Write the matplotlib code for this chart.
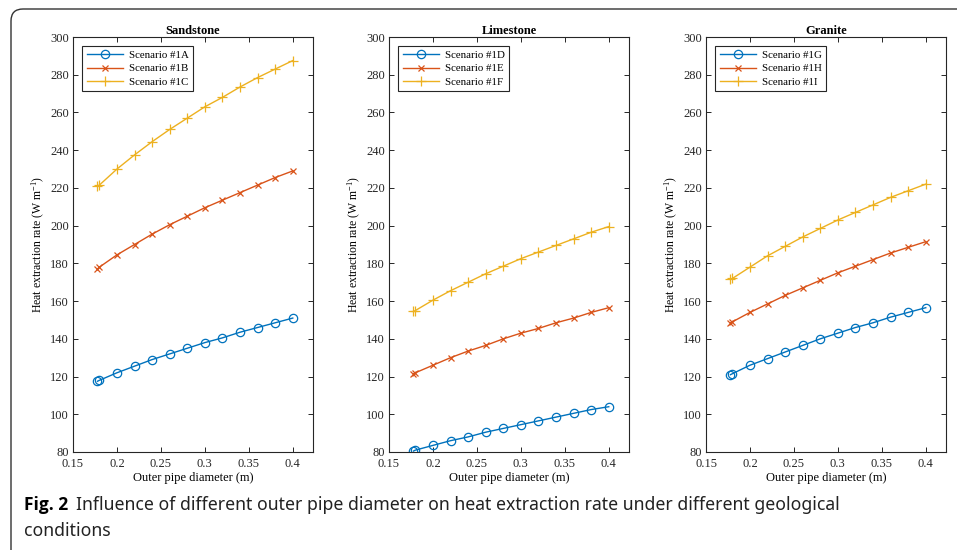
import numpy as np
import matplotlib.pyplot as plt
from matplotlib.patches import FancyBboxPatch
from matplotlib.transforms import IdentityTransform

# outer pipe diameter (m)
diameter = [0.1778, 0.18, 0.20, 0.22, 0.24, 0.26, 0.28, 0.30, 0.32, 0.34, 0.36, 0.38, 0.40]

# heat extraction rate (W/m)
sand_1A = [117.5, 118, 122, 125.5, 129, 132, 135, 138, 140.5, 143.5, 146, 148.5, 151]
sand_1B = [177, 178, 184.5, 190, 195.5, 200.5, 205, 209.5, 213.5, 217.5, 221.5, 225.5, 229]
sand_1C = [221, 221.5, 230, 237.5, 244.5, 251, 257, 263, 268, 273.5, 278.5, 283, 287.5]

lime_1D = [80.5, 81, 83.5, 86, 88, 90.5, 92.5, 94.5, 96.5, 98.5, 100.5, 102.5, 104]
lime_1E = [121.5, 122, 126, 130, 133.5, 136.5, 140, 143, 145.5, 148.5, 151, 154, 156.5]
lime_1F = [154.5, 155, 160.5, 165.5, 170, 174.5, 178.5, 182.5, 186, 189.5, 193, 196.5, 199.5]

gran_1G = [121, 121.5, 126, 129.5, 133, 136.5, 140, 143, 146, 148.5, 151.5, 154, 156.5]
gran_1H = [148.5, 149, 154, 158.5, 163, 167, 171, 175, 178.5, 182, 185.5, 188.5, 191.5]
gran_1I = [171.5, 172, 178, 184, 189, 194, 198.5, 203, 207, 211, 215, 218.5, 222]

panels = [
    ("Sandstone", [sand_1A, sand_1B, sand_1C], ["Scenario #1A", "Scenario #1B", "Scenario #1C"]),
    ("Limestone", [lime_1D, lime_1E, lime_1F], ["Scenario #1D", "Scenario #1E", "Scenario #1F"]),
    ("Granite", [gran_1G, gran_1H, gran_1I], ["Scenario #1G", "Scenario #1H", "Scenario #1I"]),
]

colors = ["#0072BD", "#D95319", "#EDB120"]
markers = ["o", "x", "+"]
msizes = [6, 4.5, 7]

plt.rcParams['font.family'] = ['Liberation Serif', 'DejaVu Serif']
plt.rcParams['mathtext.fontset'] = 'custom'
plt.rcParams['mathtext.rm'] = 'Liberation Serif'
plt.rcParams['mathtext.it'] = 'Liberation Serif:italic'

W, H = 957, 550
fig = plt.figure(figsize=(W / 100, H / 100), dpi=100)

lefts = [73, 389, 706]
ax_w = 240
ax_top, ax_bot = 37, 452

for (title, series, labels), left in zip(panels, lefts):
    ax = fig.add_axes([left / W, 1 - ax_bot / H, ax_w / W, (ax_bot - ax_top) / H])
    for y, lab, c, m, ms in zip(series, labels, colors, markers, msizes):
        ax.plot(diameter, y, color=c, marker=m, markersize=ms, markerfacecolor='none',
                markeredgewidth=0.9, lw=1.0, label=lab)
    ax.set_xlim(0.15, 0.423)
    ax.set_ylim(80, 300)
    ax.set_xticks([0.15, 0.2, 0.25, 0.3, 0.35, 0.4])
    ax.set_xticklabels(["0.15", "0.2", "0.25", "0.3", "0.35", "0.4"])
    ax.set_yticks(np.arange(80, 301, 20))
    ax.tick_params(direction='in', top=True, right=True, length=3.5, width=0.7,
                   labelsize=9, colors='#262626')
    ax.tick_params(axis='x', pad=4)
    ax.tick_params(axis='y', pad=3)
    for sp in ax.spines.values():
        sp.set_linewidth(0.8)
        sp.set_color('#262626')
    ax.set_title(title, fontsize=9, fontweight='bold', pad=2)
    ax.set_xlabel("Outer pipe diameter (m)", fontsize=9, labelpad=2)
    ax.set_ylabel("Heat extraction rate (W m$^{-1}$)", fontsize=8.5, labelpad=2)
    leg = ax.legend(loc='upper left', fontsize=7.8, fancybox=False, framealpha=1,
                    borderaxespad=0.85, handlelength=3.4, labelspacing=0.35,
                    borderpad=0.4, handletextpad=0.5)
    leg.get_frame().set_edgecolor('#262626')
    leg.get_frame().set_linewidth(0.8)

# caption
cap_font = ['Noto Sans', 'DejaVu Sans']
fig.text(24 / W, 1 - 505 / H, "Fig. 2", fontsize=12.5, fontweight='bold',
         family=['Open Sans', 'DejaVu Sans'], va='center', ha='left')
fig.text(76 / W, 1 - 505 / H,
         "Influence of different outer pipe diameter on heat extraction rate under different geological",
         fontsize=12.7, family=cap_font, va='center', ha='left', color='#222222')
fig.text(24 / W, 1 - 531 / H, "conditions", fontsize=12.7, family=cap_font,
         va='center', ha='left', color='#222222')

# rounded frame around the figure
frame = FancyBboxPatch((11, -20), 1100, H - 9 + 20, boxstyle="round,pad=0,rounding_size=12",
                       transform=IdentityTransform(), fill=False, edgecolor='#333333', lw=1.0)
fig.add_artist(frame)

fig.savefig("out.png", dpi=100)
